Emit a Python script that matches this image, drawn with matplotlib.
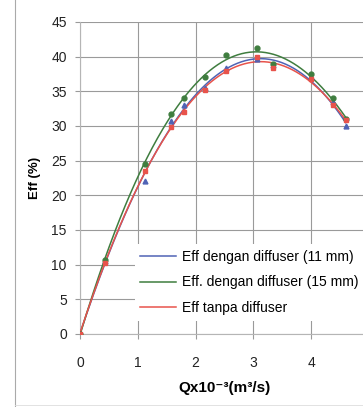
import numpy as np
import matplotlib
matplotlib.use("Agg")
import matplotlib.pyplot as plt
from matplotlib.lines import Line2D

plt.rcParams["font.family"] = ["Liberation Sans", "DejaVu Sans"]

q = [0, 0.43, 1.12, 1.57, 1.80, 2.17, 2.53, 3.07, 3.35, 4.00, 4.38, 4.60]
eff_11mm = [0, 10.5, 22.0, 30.7, 33.0, 35.5, 38.3, 39.7, 38.8, 37.0, 33.5, 30.0]
eff_15mm = [0, 10.7, 24.5, 31.7, 34.1, 37.0, 40.2, 41.3, 39.0, 37.5, 34.0, 31.0]
eff_none = [0, 10.3, 23.5, 29.8, 32.0, 35.2, 38.0, 40.0, 38.3, 36.8, 33.0, 30.8]

labels = ["Eff dengan diffuser (11 mm)",
          "Eff. dengan diffuser (15 mm)",
          "Eff tanpa diffuser"]
colors = ["#4f63b5", "#3f7d3f", "#e8534b"]
markers = ["^", "o", "s"]

fig = plt.figure(figsize=(3.63, 4.07), dpi=100)
ax = fig.add_axes([0.2204, 0.1794, 0.7955, 0.7666])

# Excel-like polynomial trendlines plus the measured markers
qq = np.linspace(0, 4.6, 200)
for ys, c, m in zip([eff_11mm, eff_15mm, eff_none], colors, markers):
    coef = np.polyfit(q, ys, 3)
    ax.plot(qq, np.polyval(coef, qq), color=c, lw=1.1, zorder=3)
    ax.plot(q, ys, ls="none", marker=m, ms=3.5, color=c, zorder=4)

ax.set_xlim(0, 5)
ax.set_ylim(0, 45)
ax.set_xticks(range(0, 6))
ax.set_yticks(range(0, 46, 5))
ax.grid(True, color="#9a9a9a", lw=0.8)
for side in ["top", "right"]:
    ax.spines[side].set_visible(False)
for side in ["left", "bottom"]:
    ax.spines[side].set_color("#b5b5b5")
    ax.spines[side].set_linewidth(0.8)
ax.tick_params(length=3.5, width=0.8, color="#9a9a9a", labelsize=10,
               labelcolor="#222222")
ax.tick_params(axis="y", pad=6)
ax.tick_params(axis="x", pad=12)

ax.set_ylabel("Eff (%)", fontsize=9.5, fontweight="bold", labelpad=7)
ax.set_xlabel("Qx10\u207b\u00b3(m\u00b3/s)", fontsize=11, fontweight="bold",
              labelpad=8)

handles = [Line2D([], [], color=c, lw=1.1) for c in colors]
leg = ax.legend(handles, labels, loc="lower left", bbox_to_anchor=(0.165, 0.02),
                frameon=True, fancybox=False, framealpha=1, edgecolor="none",
                fontsize=10, handlelength=2.6, handletextpad=0.4,
                labelspacing=0.85, borderpad=0.4)
leg.set_zorder(5)

# page border lines around the scanned figure
fig.add_artist(Line2D([15 / 363, 15 / 363], [0.0, 1.0], color="#aaaaaa", lw=0.8))
fig.add_artist(Line2D([15 / 363, 1.0], [2 / 407, 2 / 407], color="#dddddd", lw=0.6))

fig.savefig("out.png", dpi=100)
